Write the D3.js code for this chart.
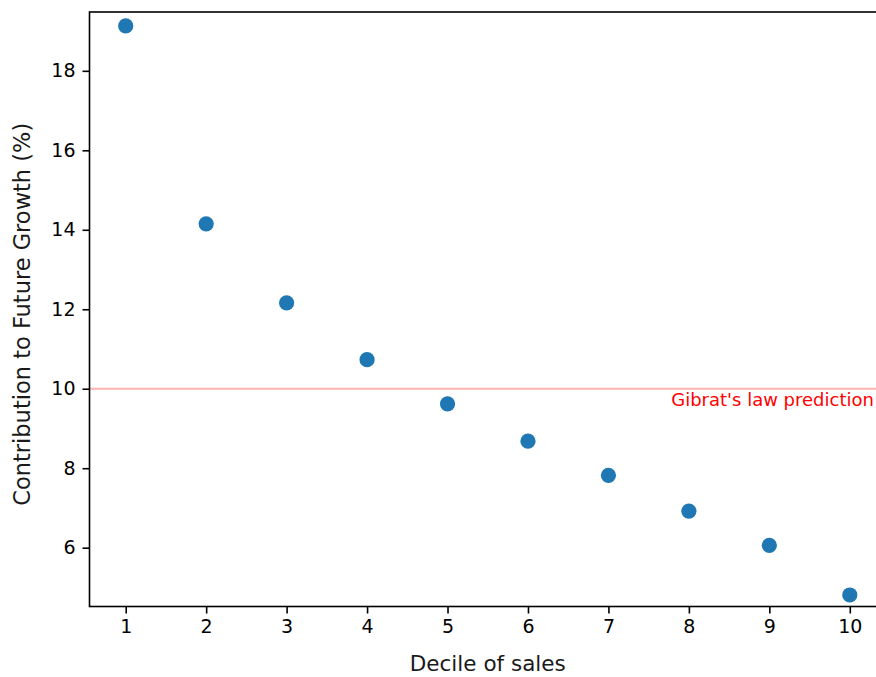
<!DOCTYPE html>
<html>
<head>
<meta charset="utf-8">
<script src="https://cdn.jsdelivr.net/npm/d3@7"></script>
<style>
  html, body { margin: 0; padding: 0; background: #fff; }
  svg { display: block; }
  text { font-family: "DejaVu Sans", sans-serif; }
</style>
</head>
<body>
<svg id="chart" width="876" height="677"></svg>
<script>
// Decile of sales vs. contribution to future growth
const deciles = [1, 2, 3, 4, 5, 6, 7, 8, 9, 10];
const contribution = [19.13, 14.15, 12.16, 10.73, 9.62, 8.68, 7.82, 6.92, 6.06, 4.81];
const xTicks = [1, 2, 3, 4, 5, 6, 7, 8, 9, 10];
const yTicks = [6, 8, 10, 12, 14, 16, 18];
const gibratLevel = 10;
const gibratLabel = "Gibrat's law prediction";

const svg = d3.select("#chart");
const plotLeft = 89.5, plotRight = 886, plotTop = 12, plotBottom = 606.5;

const x = d3.scaleLinear().domain([0.55, 10.45]).range([plotLeft, plotRight]);
const y = d3.scaleLinear().domain([4.52, 19.48]).range([plotBottom, plotTop]);

const tickFont = 19;

// horizontal reference line
svg.append("line")
  .attr("x1", plotLeft).attr("x2", plotRight)
  .attr("y1", y(gibratLevel)).attr("y2", y(gibratLevel))
  .attr("stroke", "rgba(255,0,0,0.3)")
  .attr("stroke-width", 2);

svg.append("text")
  .attr("x", x(10.3))
  .attr("y", y(gibratLevel) + 17)
  .attr("text-anchor", "end")
  .attr("font-size", 18)
  .attr("fill", "#ff0000")
  .text(gibratLabel);

// points
svg.append("g").selectAll("circle")
  .data(deciles)
  .join("circle")
  .attr("cx", d => x(d))
  .attr("cy", (d, i) => y(contribution[i]))
  .attr("r", 7.6)
  .attr("fill", "#1f77b4");

// axes
const xAxis = d3.axisBottom(x).tickValues(xTicks).tickFormat(d3.format("d"))
  .tickSize(7).tickPadding(6).tickSizeOuter(0);
const yAxis = d3.axisLeft(y).tickValues(yTicks).tickFormat(d3.format("d"))
  .tickSize(7).tickPadding(7).tickSizeOuter(0);

const gx = svg.append("g").attr("transform", `translate(0,${plotBottom})`).call(xAxis);
const gy = svg.append("g").attr("transform", `translate(${plotLeft},0)`).call(yAxis);
[gx, gy].forEach(g => {
  g.select(".domain").remove();
  g.selectAll(".tick line").attr("stroke", "#000").attr("stroke-width", 1.6);
  g.selectAll(".tick text").attr("font-size", tickFont).attr("fill", "#000")
    .attr("font-family", "DejaVu Sans, sans-serif");
});

// frame
svg.append("rect")
  .attr("x", plotLeft).attr("y", plotTop)
  .attr("width", plotRight - plotLeft).attr("height", plotBottom - plotTop)
  .attr("fill", "none").attr("stroke", "#000").attr("stroke-width", 1.6);

// axis labels
svg.append("text")
  .attr("x", (plotLeft + plotRight) / 2).attr("y", 671)
  .attr("text-anchor", "middle")
  .attr("font-size", 21.5)
  .attr("fill", "#1a1a1a")
  .text("Decile of sales");

svg.append("text")
  .attr("transform", `translate(30,${(plotTop + plotBottom) / 2 + 5}) rotate(-90)`)
  .attr("text-anchor", "middle")
  .attr("font-size", 22.5)
  .attr("fill", "#1a1a1a")
  .text("Contribution to Future Growth (%)");
</script>
</body>
</html>
